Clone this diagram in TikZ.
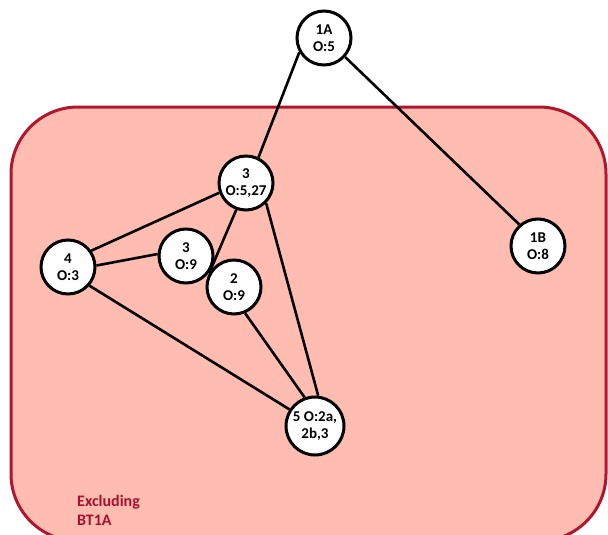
\documentclass[tikz,border=0pt]{standalone}
\usepackage{fontspec}
\setmainfont{Carlito}
\definecolor{zonefill}{HTML}{FFBCB1}
\definecolor{zonedraw}{HTML}{B0172E}
\definecolor{zonetext}{HTML}{A8102E}
\begin{document}
\begin{tikzpicture}[x=1pt,y=-1pt,
  vtx/.style={circle,draw=black,line width=3pt,fill=white,minimum size=54pt,inner sep=0pt,
    align=center,font=\fontsize{15}{17}\selectfont\bfseries},
  edge/.style={draw=black,line width=2.6pt},
  zone/.style={draw=zonedraw,fill=zonefill,line width=3pt,rounded corners=67pt}]
\useasboundingbox (0,0) rectangle (608,535);
\begin{scope}
\clip (0,0) rectangle (608,535);
\draw[zone] (11,107) rectangle (606,541);
\end{scope}
\node[anchor=base west,align=left,text=zonetext,font=\fontsize{16}{19}\selectfont\bfseries,inner sep=0pt] (lbl) at (77,525) {Excluding\\BT1A};
\node[vtx] (a1) at (324,38) {1A\\O:5};
\node[vtx] (b1) at (538,246) {1B\\O:8};
\node[vtx] (t3) at (246,183) {3\\O:5,27};
\node[vtx] (f4) at (68,267) {4\\O:3};
\node[vtx] (m3) at (186,256) {3\\O:9};
\node[vtx] (s2) at (234,287) {2\\O:9};
\node[vtx,minimum size=58pt] (v5) at (315,426) {5 O:2a,\\2b,3};
\draw[edge] (a1.-150) -- (t3.64);
\draw[edge] (a1.-42) -- (b1.131);
\draw[edge] (t3.-110) -- (s2.150);
\draw[edge] (t3.-160) -- (f4.35);
\draw[edge] (f4.3) -- (m3.176);
\draw[edge] (f4.-41) -- (v5.147);
\draw[edge] (s2.-67) -- (v5.110);
\draw[edge] (t3.-45) -- (v5.84);
\end{tikzpicture}
\end{document}
